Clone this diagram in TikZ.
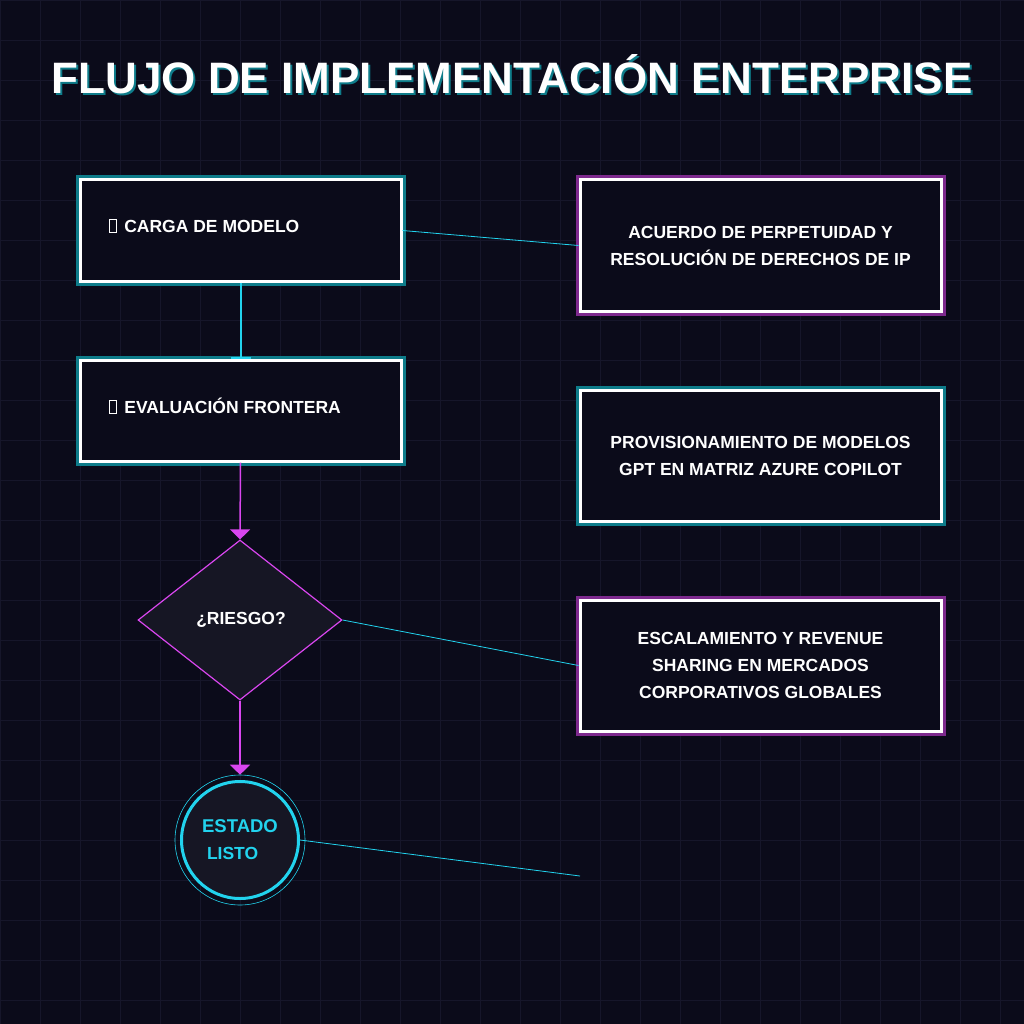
\documentclass[tikz,border=0pt]{standalone}
\usepackage{fontspec}
\setmainfont{Liberation Sans}
\usetikzlibrary{arrows.meta,shapes.geometric}
\definecolor{bg}{HTML}{0B0B1A}
\definecolor{gridc}{HTML}{16162A}
\definecolor{cy}{HTML}{22D3EE}
\definecolor{teal}{HTML}{0E7C8A}
\definecolor{mag}{HTML}{D946EF}
\definecolor{pur}{HTML}{7E2A8E}
\definecolor{fillc}{HTML}{161624}
\newcommand{\tofu}{\tikz[baseline=0pt]\draw[white,line width=0.8pt](0,0) rectangle (7pt,13pt);\hspace{8pt}}
\tikzset{
 every node/.style={font=\bfseries\fontsize{17.5pt}{27pt}\selectfont, text=white},
 tealbox/.style={draw=white, line width=3pt, fill=bg,
   preaction={draw=teal, line width=9pt}, minimum width=321pt, minimum height=101pt},
 purbox/.style={draw=white, line width=3pt, fill=bg,
   preaction={draw=pur, line width=9pt}, minimum width=361pt, minimum height=131pt, align=center},
 cyl/.style={cy, line width=0.8pt},
 magl/.style={mag, line width=1.5pt, -{Triangle[length=10pt,width=20pt]}},
 ttl/.style={font=\bfseries\fontsize{44pt}{50pt}\selectfont},
}
\begin{document}
\begin{tikzpicture}[x=1pt,y=-1pt]
\fill[bg] (0,0) rectangle (1024,1024);
\useasboundingbox (0,0) rectangle (1024,1024);
\foreach \i in {0,40,...,1000}{\draw[gridc,line width=0.8pt] (\i,0)--(\i,1024); \draw[gridc,line width=0.8pt] (0,\i)--(1024,\i);}
\node[ttl, text=teal] (tshadow) at (514,76) {FLUJO DE IMPLEMENTACIÓN ENTERPRISE};
\node[ttl] (title) at (512,74) {FLUJO DE IMPLEMENTACIÓN ENTERPRISE};
\node[tealbox] (b1) at (240.5,230.5) {};
\node[anchor=west] (t1) at (105,226) {\tofu CARGA DE MODELO};
\node[tealbox] (b2) at (240.5,410.5) {};
\node[anchor=west] (t2) at (105,406) {\tofu EVALUACIÓN FRONTERA};
\node[diamond, draw=mag, line width=1.2pt, fill=fillc, minimum width=204pt, minimum height=160pt, inner sep=0pt] (d) at (240,620) {};
\node (dt) at (241,620) {¿RIESGO?};
\node[circle, draw=cy, line width=0.6pt, minimum size=130pt, inner sep=0pt] (cr) at (240,840) {};
\node[circle, draw=cy, line width=3pt, fill=fillc, minimum size=117pt, inner sep=0pt, text=cy, align=left] (c) at (240,840) {\fontsize{18.5pt}{26pt}\selectfont ESTADO\\\ LISTO};
\node[purbox] (r1) at (760.5,245.5) {ACUERDO DE PERPETUIDAD Y\\RESOLUCIÓN DE DERECHOS DE IP};
\node[tealbox, minimum width=361pt, minimum height=131pt, align=center] (r2) at (760.5,455.5) {PROVISIONAMIENTO DE MODELOS\\GPT EN MATRIZ AZURE COPILOT};
\node[purbox] (r3) at (760.5,665.5) {ESCALAMIENTO Y REVENUE\\SHARING EN MERCADOS\\CORPORATIVOS GLOBALES};
\coordinate (free) at (580,876);
\draw[cyl] (b1.east) -- (r1.west);
\draw[cy, line width=2pt, -{Bar[width=20pt]}] (b1.south) -- (b2.north);
\draw[magl] (b2.south) -- (d.north);
\draw[magl] (d.south) -- (cr.north);
\draw[cyl] (d.east) -- (r3.west);
\draw[cyl] (c.east) -- (free);
\end{tikzpicture}
\end{document}
